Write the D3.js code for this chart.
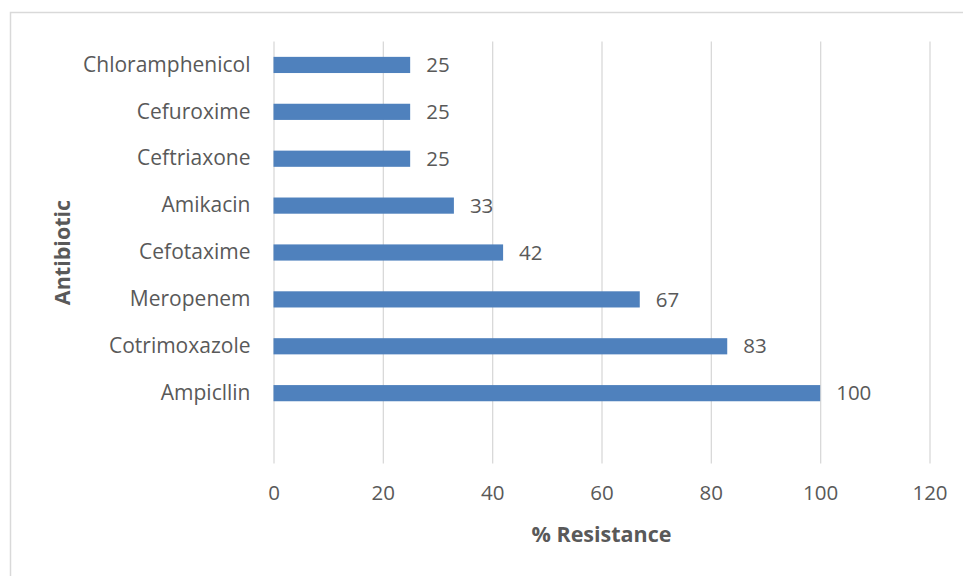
<!DOCTYPE html>
<html><head><meta charset="utf-8">
<script src="https://cdn.jsdelivr.net/npm/d3@7"></script>
<style>body{margin:0;background:#fff}svg{display:block}text{font-family:"Open Sans",sans-serif;fill:#595959}</style>
</head><body>
<svg id="c" width="963" height="576"></svg>
<script>
const categories = ["Chloramphenicol","Cefuroxime","Ceftriaxone","Amikacin","Cefotaxime","Meropenem","Cotrimoxazole","Ampicllin",""];
const values = [25,25,25,33,42,67,83,100,null];
const xTicks = [0,20,40,60,80,100,120];
const xTitle = "% Resistance";
const yTitle = "Antibiotic";

const svg = d3.select("#c");
svg.append("rect").attr("x",10.5).attr("y",12.5).attr("width",970).attr("height",600)
  .attr("fill","#fff").attr("stroke","#d9d9d9").attr("stroke-width",1.5);

const m = {left:273.5, right:929.5, top:41.5, bottom:463.5};
const x = d3.scaleLinear().domain([0,120]).range([m.left,m.right]);
const y = d3.scaleBand().domain(categories).range([m.top,m.bottom]).paddingInner(0.655).paddingOuter(0.3275);

const grid = svg.append("g").attr("transform",`translate(0,${m.bottom})`)
  .call(d3.axisBottom(x).tickValues(xTicks).tickSize(-(m.bottom-m.top)).tickFormat(""));
grid.select(".domain").remove();
grid.selectAll("line").attr("stroke","#d9d9d9").attr("stroke-width",1.3);

const xAxis = svg.append("g").attr("transform",`translate(0,${m.bottom})`)
  .call(d3.axisBottom(x).tickValues(xTicks).tickSize(0).tickPadding(22));
xAxis.select(".domain").remove();
xAxis.attr("font-size",20.5).attr("font-family","Open Sans");
xAxis.selectAll("text").attr("fill","#595959");

const yAxis = svg.append("g").attr("transform",`translate(${m.left},0)`)
  .call(d3.axisLeft(y).tickSize(0).tickPadding(23));
yAxis.select(".domain").remove();
yAxis.attr("font-size",21).attr("font-family","Open Sans");
yAxis.selectAll("text").attr("fill","#595959");

const data = categories.map((c,i)=>({c,v:values[i]})).filter(d=>d.v!=null);
svg.append("g").selectAll("rect").data(data).join("rect")
  .attr("x",x(0)).attr("y",d=>y(d.c)).attr("width",d=>x(d.v)-x(0)).attr("height",y.bandwidth())
  .attr("fill","#4F81BD");

svg.append("g").selectAll("text").data(data).join("text")
  .attr("x",d=>x(d.v)+16).attr("y",d=>y(d.c)+y.bandwidth()/2).attr("dy","0.35em")
  .attr("font-size",20.5).text(d=>d.v);

svg.append("text").attr("x",(m.left+m.right)/2).attr("y",534).attr("dy","0.35em")
  .attr("text-anchor","middle").attr("font-size",21.5).attr("font-weight","bold").text(xTitle);
svg.append("text").attr("transform",`translate(62,${(m.top+m.bottom)/2}) rotate(-90)`).attr("dy","0.35em")
  .attr("text-anchor","middle").attr("font-size",21.5).attr("font-weight","bold").text(yTitle);
</script>
</body></html>
